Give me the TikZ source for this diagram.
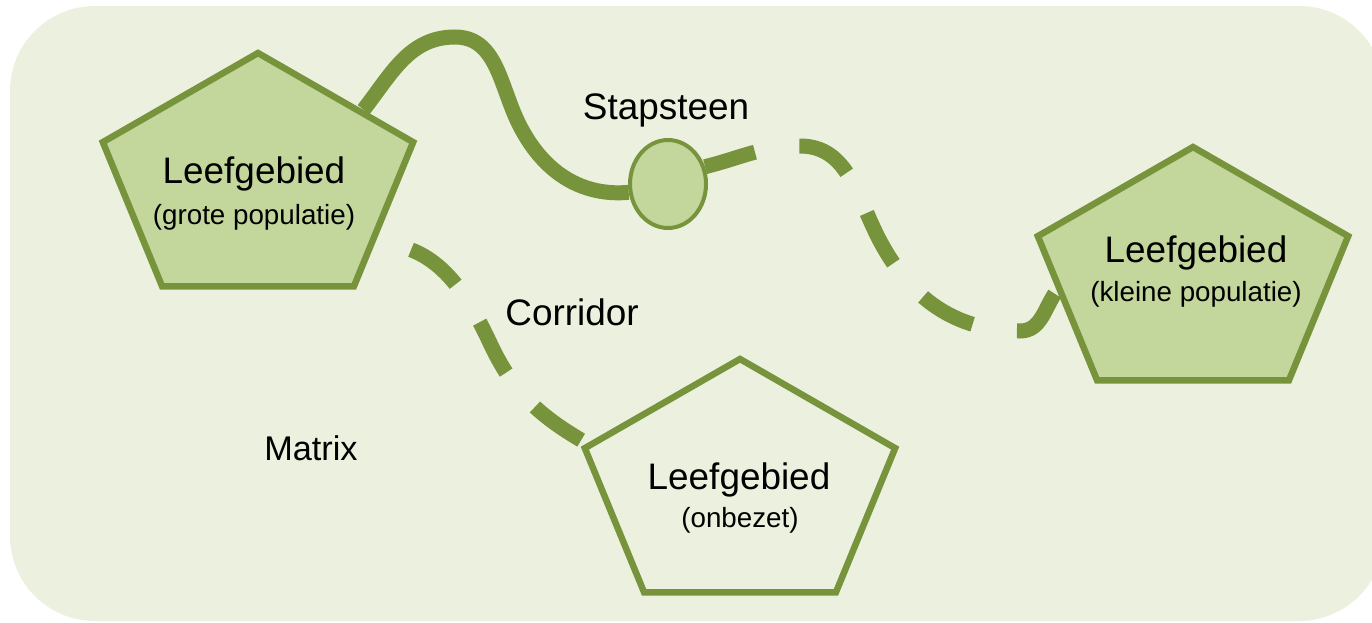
\documentclass[tikz,border=0pt]{standalone}
\usepackage{fontspec}
\setmainfont{Liberation Sans}
\usetikzlibrary{shapes.geometric, calc}
\definecolor{leafline}{HTML}{77933C}
\definecolor{leaffill}{HTML}{C3D69B}
\definecolor{matrixbg}{HTML}{EBF1DE}
\pgfdeclarelayer{back}
\pgfsetlayers{back,main}
\tikzset{
	patch/.style={regular polygon, regular polygon sides=5, minimum size=5.16cm, inner sep=0pt, xscale=1.265, draw=leafline, line width=0.13cm},
	stone/.style={ellipse, minimum width=1.52cm, minimum height=1.76cm, inner sep=0pt, draw=leafline, line width=0.08cm, fill=leaffill},
	headtext/.style={font=\fontsize{21}{25}\selectfont, inner sep=0pt, anchor=base},
	subtext/.style={font=\fontsize{15.8}{19}\selectfont, inner sep=0pt, anchor=base},
	link/.style={draw=leafline, line width=0.3cm},
	dashedlink/.style={link, dash pattern=on 1.14cm off 0.9cm}
}

\begin{document}
\begin{tikzpicture}[x=0.02cm, y=0.02cm]
\useasboundingbox (0,0) rectangle (1372,-622);

\node[patch, fill=leaffill] (grote) at (258,-182) {};
\node[patch, fill=leaffill] (kleine) at (1193,-276) {};
\node[patch] (onbezet) at (740,-488) {};
\node[stone] (stap) at (668,-184) {};

\node[headtext] (groteT) at (254,-183) {Leefgebied};
\node[subtext] (groteS) at (254,-224) {(grote populatie)};
\node[headtext] (kleineT) at (1196,-262) {Leefgebied};
\node[subtext] (kleineS) at (1196,-301) {(kleine populatie)};
\node[headtext] (onbezetT) at (739,-489) {Leefgebied};
\node[subtext] (onbezetS) at (740,-527) {(onbezet)};

\node[headtext] (stapT) at (666,-119) {Stapsteen};
\node[headtext] (corT) at (572,-325) {Corridor};
\node[headtext, font=\fontsize{19.5}{23}\selectfont] (matrixT) at (311,-460) {Matrix};

\begin{pgfonlayer}{back}
\fill[matrixbg, rounded corners=1.7cm] (10,-6) rectangle (1384,-621);

\draw[link] ($(grote.corner 1)!0.66!(grote.corner 5)$) to[out=52,in=180] (455,-37)
	to[out=0,in=115] (517,-120) to[out=-65,in=185] (stap.192);
\draw[dashedlink, dash phase=0.1cm] (stap.25) to[out=14,in=180] (800,-146)
	to[out=0,in=118] (880,-241) to[out=-62,in=180] (1020,-331)
	to[out=0,in=-125] ($(kleine.corner 2)!0.38!(kleine.corner 3)$);
\draw[dashedlink, dash phase=1.32cm] ($(grote.corner 5)!0.69!(grote.corner 4)$)
	to[out=0,in=115] (490,-343) to[out=-65,in=150] ($(onbezet.corner 2)!0.04!(onbezet.corner 1)$);
\end{pgfonlayer}
\end{tikzpicture}
\end{document}
